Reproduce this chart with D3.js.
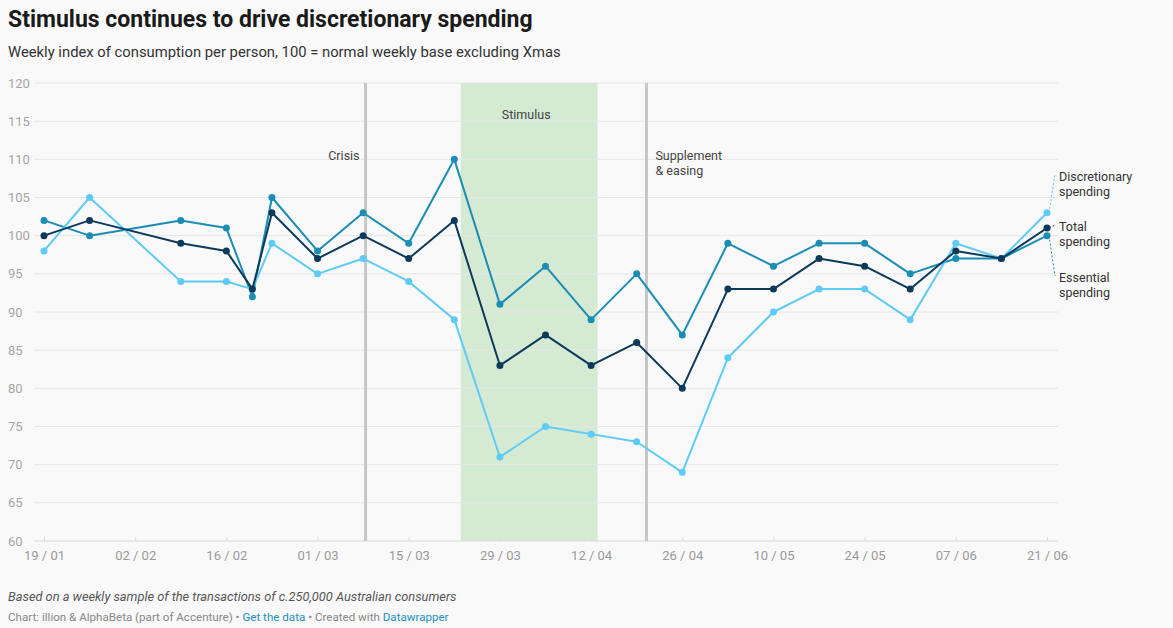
<!DOCTYPE html>
<meta charset="utf-8">
<style>
  body { margin: 0; background: #f9f9f9; font-family: Roboto, sans-serif; }
  .axis text { font-family: Roboto, sans-serif; }
</style>

<script src="https://d3js.org/d3.v7.min.js"></script>

<div id="chart"></div>

<script>

  // weekly dates (one odd mid-week point around 20/02, no point on 02/02)
  const dates = ["2020-01-19","2020-01-26","2020-02-09","2020-02-16","2020-02-20","2020-02-23",
    "2020-03-01","2020-03-08","2020-03-15","2020-03-22","2020-03-29","2020-04-05","2020-04-12",
    "2020-04-19","2020-04-26","2020-05-03","2020-05-10","2020-05-17","2020-05-24","2020-05-31",
    "2020-06-07","2020-06-14","2020-06-21"]

  const total         = [100,102,99,98,93,103,97,100,97,102,83,87,83,86,80,93,93,97,96,93,98,97,101]
  const essential     = [102,100,102,101,92,105,98,103,99,110,91,96,89,95,87,99,96,99,99,95,97,97,100]
  const discretionary = [98,105,94,94,93,99,95,97,94,89,71,75,74,73,69,84,90,93,93,89,99,97,103]

  const tickDates = ["2020-01-19","2020-02-02","2020-02-16","2020-03-01","2020-03-15","2020-03-29",
    "2020-04-12","2020-04-26","2020-05-10","2020-05-24","2020-06-07","2020-06-21"]
  const yTicks = [60,65,70,75,80,85,90,95,100,105,110,115,120]

  const parse = d3.timeParse("%Y-%m-%d")

  const width = 1173
  const height = 628

  const svg = d3.select("#chart")
    .append("svg")
      .attr("width", width)
      .attr("height", height)

  svg.append("rect").attr("width", width).attr("height", height).attr("fill", "#f9f9f9")

  // title + subtitle
  svg.append("text")
    .attr("x", 8).attr("y", 27)
    .style("font-size", "23px").style("font-weight", "bold").attr("fill", "#1a1a1a")
    .text("Stimulus continues to drive discretionary spending")
  svg.append("text")
    .attr("x", 8).attr("y", 57)
    .style("font-size", "14.8px").attr("fill", "#333")
    .text("Weekly index of consumption per person, 100 = normal weekly base excluding Xmas")

  // scales
  const x = d3.scaleTime()
    .domain([parse("2020-01-19"), parse("2020-06-21")])
    .range([44, 1047])
  const y = d3.scaleLinear()
    .domain([60, 120])
    .range([541, 83])

  const gridLeft = 34, gridRight = 1058

  // stimulus band
  svg.append("rect")
    .attr("x", x(parse("2020-03-23")))
    .attr("y", y(120))
    .attr("width", x(parse("2020-04-13")) - x(parse("2020-03-23")))
    .attr("height", y(60) - y(120))
    .attr("fill", "#d5ead3")

  // gridlines
  svg.append("g")
    .selectAll("line")
    .data(yTicks)
    .join("line")
      .attr("x1", gridLeft).attr("x2", gridRight)
      .attr("y1", d => y(d)).attr("y2", d => y(d))
      .attr("stroke", d => d === 60 ? "#d8d8d8" : "#e6e6e6")
      .attr("stroke-width", 1)

  // y labels
  svg.append("g")
    .selectAll("text")
    .data(yTicks)
    .join("text")
      .attr("x", 8).attr("y", d => y(d) + 4.5)
      .style("font-size", "13px").attr("fill", "#a6a6a6")
      .text(d => d)

  // x axis
  const xAxis = d3.axisBottom(x)
    .tickValues(tickDates.map(parse))
    .tickFormat(d3.timeFormat("%d / %m"))
    .tickSize(4)
    .tickPadding(6)
  const gx = svg.append("g")
    .attr("class", "axis")
    .attr("transform", `translate(0,${y(60)})`)
    .call(xAxis)
  gx.select(".domain").remove()
  gx.selectAll(".tick line").attr("stroke", "#dcdcdc").attr("transform", "translate(0,-4)")
  gx.selectAll(".tick text").style("font-size", "13px").attr("fill", "#9a9a9a")

  // event lines
  const timeParse2 = d3.timeParse("%Y-%m-%dT%H")
  const events = [
    {date: "2020-03-08T09"},
    {date: "2020-04-20T12"}
  ]
  svg.append("g")
    .selectAll("line")
    .data(events)
    .join("line")
      .attr("x1", d => x(timeParse2(d.date))).attr("x2", d => x(timeParse2(d.date)))
      .attr("y1", y(120)).attr("y2", y(60))
      .attr("stroke", "#c6c6c6").attr("stroke-width", 3)

  const crisisX = x(timeParse2(events[0].date))
  const suppX = x(timeParse2(events[1].date))
  const ann = svg.append("g").style("font-size", "12.5px").attr("fill", "#444")
  ann.append("text").attr("x", crisisX - 6).attr("y", 160)
    .attr("text-anchor", "end").text("Crisis")
  ann.append("text").attr("x", (x(parse("2020-03-23")) + x(parse("2020-04-13"))) / 2 - 3).attr("y", 119)
    .attr("text-anchor", "middle").text("Stimulus")
  ann.append("text").attr("x", suppX + 9).attr("y", 160).text("Supplement")
  ann.append("text").attr("x", suppX + 9).attr("y", 175).text("& easing")

  // series
  const series = [
    {name: "Essential", values: essential, color: "#1a8db5"},
    {name: "Discretionary", values: discretionary, color: "#5ecbf6"},
    {name: "Total", values: total, color: "#0d3a5b"}
  ]

  const line = d3.line()
    .x((d, i) => x(parse(dates[i])))
    .y(d => y(d))

  series.forEach(s => {
    svg.append("path")
      .datum(s.values)
      .attr("fill", "none")
      .attr("stroke", s.color)
      .attr("stroke-width", 2)
      .attr("stroke-linejoin", "round")
      .attr("d", line)
    svg.append("g")
      .selectAll("circle")
      .data(s.values)
      .join("circle")
        .attr("cx", (d, i) => x(parse(dates[i])))
        .attr("cy", d => y(d))
        .attr("r", 3.5)
        .attr("fill", s.color)
  })

  // end labels with connectors
  const last = dates.length - 1
  const lx = x(parse(dates[last]))
  const labels = [
    {lines: ["Discretionary", "spending"], v: discretionary[last], color: "#5ecbf6", ty: 181, cy: 174},
    {lines: ["Total", "spending"], v: total[last], color: "#0d3a5b", ty: 231, cy: 225},
    {lines: ["Essential", "spending"], v: essential[last], color: "#1a8db5", ty: 282, cy: 276}
  ]
  labels.forEach(l => {
    svg.append("line")
      .attr("x1", lx + 2).attr("y1", y(l.v))
      .attr("x2", lx + 8).attr("y2", l.cy)
      .attr("stroke", l.color).attr("stroke-width", 1)
      .attr("stroke-dasharray", "2,2")
    const t = svg.append("text")
      .attr("x", lx + 12).attr("y", l.ty)
      .style("font-size", "12.5px").attr("fill", "#333")
    l.lines.forEach((s, i) => {
      t.append("tspan").attr("x", lx + 12).attr("dy", i === 0 ? 0 : 15).text(s)
    })
  })

  // footer
  svg.append("text")
    .attr("x", 8).attr("y", 601)
    .style("font-size", "12.8px").style("font-style", "italic").attr("fill", "#555")
    .text("Based on a weekly sample of the transactions of c.250,000 Australian consumers")
  const src = svg.append("text")
    .attr("x", 8).attr("y", 621)
    .style("font-size", "11.6px").attr("fill", "#888")
  src.append("tspan").text("Chart: illion & AlphaBeta (part of Accenture) • ")
  src.append("tspan").attr("fill", "#1d8fc0").text("Get the data")
  src.append("tspan").text(" • Created with ")
  src.append("tspan").attr("fill", "#1d8fc0").text("Datawrapper")

</script>
